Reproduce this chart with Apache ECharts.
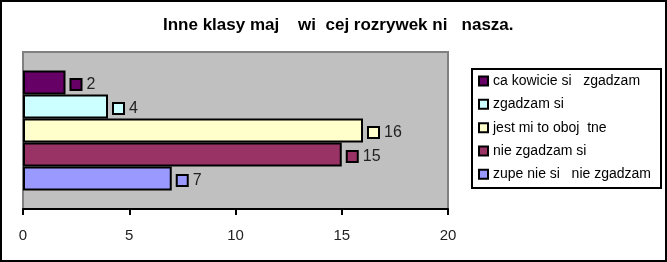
<!DOCTYPE html>
<html>
<head>
<meta charset="utf-8">
<script src="https://cdn.jsdelivr.net/npm/echarts@6/dist/echarts.min.js"></script>
<style>html,body{margin:0;padding:0;background:#fff}#c{width:667px;height:262px}</style>
</head>
<body>
<div id="c"></div>
<script>
const titleText = 'Inne klasy maj    wi  cej rozrywek ni   nasza.';
const seriesNames = ['ca kowicie si   zgadzam', 'zgadzam si', 'jest mi to oboj  tne', 'nie zgadzam si', 'zupe nie si   nie zgadzam'];
const seriesValues = [2, 4, 16, 15, 7];
const seriesColors = ['#660066', '#CCFFFF', '#FFFFCC', '#993366', '#9999FF'];
const categories = [''];
const xTicks = [0, 5, 10, 15, 20];

const FONT = 'Liberation Sans, Arial, sans-serif';
const chart = echarts.init(document.getElementById('c'), null, {renderer: 'canvas'});

const series = seriesNames.map((name, i) => ({
  name: name,
  type: 'bar',
  data: [seriesValues[i]],
  barWidth: 24,
  barGap: '0%',
  itemStyle: {color: seriesColors[i], borderColor: '#000', borderWidth: 2},
  label: {
    show: true,
    position: 'right',
    distance: 6,
    offset: [0, 2],
    formatter: '{s| }{v|{c}}',
    rich: {
      s: {width: 9, height: 9, backgroundColor: seriesColors[i], borderColor: '#000', borderWidth: 2},
      v: {fontSize: 16, fontFamily: FONT, color: '#222', padding: [0, 0, 0, 6]}
    }
  }
}));

chart.setOption({
  animation: false,
  backgroundColor: '#fff',
  title: {
    text: titleText,
    left: 158,
    top: 12,
    textStyle: {fontSize: 17, fontWeight: 'bold', fontFamily: FONT, color: '#000'}
  },
  graphic: [
    {type: 'rect', shape: {x: 1, y: 1, width: 665, height: 260}, style: {fill: 'none', stroke: '#000', lineWidth: 2}, z: 100},
    {type: 'rect', shape: {x: 472, y: 69, width: 189, height: 119}, style: {fill: '#fff', stroke: '#000', lineWidth: 2}, z: -1}
  ],
  legend: {
    orient: 'vertical',
    left: 478,
    top: 74,
    padding: 0,
    itemGap: 9.33,
    itemWidth: 9,
    itemHeight: 9,
    icon: 'rect',
    data: seriesNames,
    itemStyle: {borderColor: '#000', borderWidth: 2},
    textStyle: {fontSize: 14, fontFamily: FONT, color: '#000', lineHeight: 14},
    z: 10
  },
  grid: {
    left: 23, right: 219, top: 52, bottom: 53,
    show: true,
    backgroundColor: '#C0C0C0',
    borderColor: '#808080',
    borderWidth: 2
  },
  xAxis: {
    type: 'value',
    min: xTicks[0],
    max: xTicks[xTicks.length - 1],
    interval: xTicks[1] - xTicks[0],
    axisLine: {show: true, lineStyle: {color: '#000', width: 2}},
    axisTick: {show: true, length: 6, lineStyle: {color: '#000', width: 2}},
    splitLine: {show: false},
    axisLabel: {fontSize: 15, fontFamily: FONT, color: '#222', margin: 19}
  },
  yAxis: {
    type: 'category',
    data: categories,
    axisLine: {show: false},
    axisTick: {show: false},
    axisLabel: {show: false},
    splitLine: {show: false}
  },
  series: series
});
</script>
</body>
</html>
